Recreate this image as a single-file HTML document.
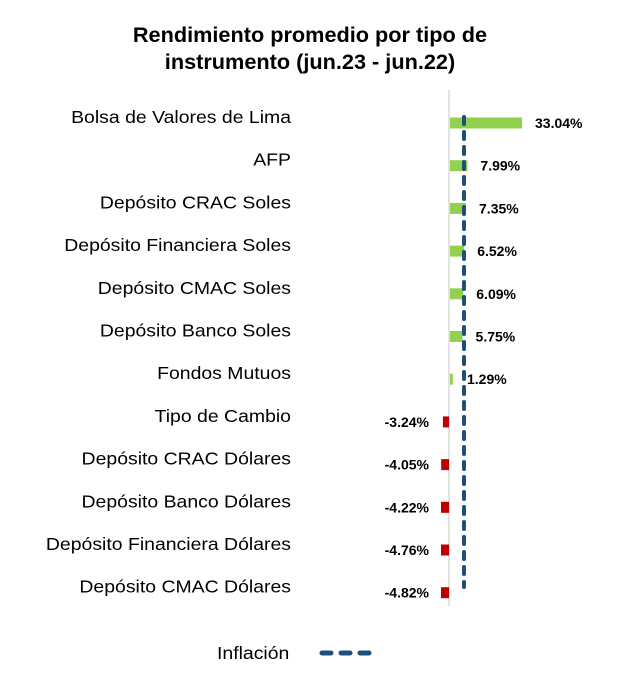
<!DOCTYPE html>
<html><head><meta charset="utf-8"><style>
body{margin:0;background:#fff;}
svg{display:block;font-family:"Liberation Sans",Arial,sans-serif;}
</style></head><body>
<svg id="c" width="620" height="696" viewBox="0 0 620 696">
<text x="310" y="42" text-anchor="middle" font-size="21.7" font-weight="bold" fill="#000">Rendimiento promedio por tipo de</text>
<text x="310" y="69" text-anchor="middle" font-size="21.7" font-weight="bold" fill="#000">instrumento (jun.23 - jun.22)</text>
<line x1="449" y1="90" x2="449" y2="606" stroke="#d9d9d9" stroke-width="1.5"/>
<g id="bars"></g>
<line x1="464" y1="117" x2="464" y2="587" stroke="#1f4e79" stroke-width="4" stroke-linecap="round" stroke-dasharray="7 8"/>
<text x="217" y="659" font-size="18" fill="#000" transform="translate(217 0) scale(1.08 1) translate(-217 0)">Inflación</text>
<line x1="322" y1="653" x2="370" y2="653" stroke="#1f4e79" stroke-width="5" stroke-linecap="round" stroke-dasharray="9 10"/>
</svg>
<script>
const categories=["Bolsa de Valores de Lima","AFP","Depósito CRAC Soles","Depósito Financiera Soles","Depósito CMAC Soles","Depósito Banco Soles","Fondos Mutuos","Tipo de Cambio","Depósito CRAC Dólares","Depósito Banco Dólares","Depósito Financiera Dólares","Depósito CMAC Dólares"];
const values=[33.04,7.99,7.35,6.52,6.09,5.75,1.29,-3.24,-4.05,-4.22,-4.76,-4.82];
const valueLabels=["33.04%","7.99%","7.35%","6.52%","6.09%","5.75%","1.29%","-3.24%","-4.05%","-4.22%","-4.76%","-4.82%"];
const ns="http://www.w3.org/2000/svg";
const g=document.getElementById('bars');
const x0=450, k=2.18;
function xs(v){return x0+v*k;}
function yc(i){return 123+i*42.7;}
function mk(t,a){const e=document.createElementNS(ns,t);for(const n in a)e.setAttribute(n,a[n]);g.appendChild(e);return e;}
categories.forEach((c,i)=>{
  const v=values[i];
  const lbl=mk('text',{x:291,y:117+i*42.7+6,'text-anchor':'end','font-size':18,fill:'#000',transform:'translate(291 0) scale(1.08 1) translate(-291 0)'});
  lbl.textContent=c;
  
  
  let x=Math.min(xs(v),x0),w=Math.abs(xs(v)-x0);
  if(v<0){x=Math.max(xs(v),441);w=x0-1-x;}
  const r=mk('rect',{x:x,y:yc(i)-5.5,width:w,height:11,fill:v>=0?'#92d050':'#c00000'});
  
  
  const t=mk('text',{'font-size':14,'font-weight':'bold',fill:'#000'});
  if(v>=0){t.setAttribute('x',Math.max(xs(v)+13,467));t.setAttribute('text-anchor','start');}
  else{t.setAttribute('x',429);t.setAttribute('text-anchor','end');}
  t.setAttribute('y',yc(i)+5);
  t.textContent=valueLabels[i];
  
  
});
</script>
</body></html>
